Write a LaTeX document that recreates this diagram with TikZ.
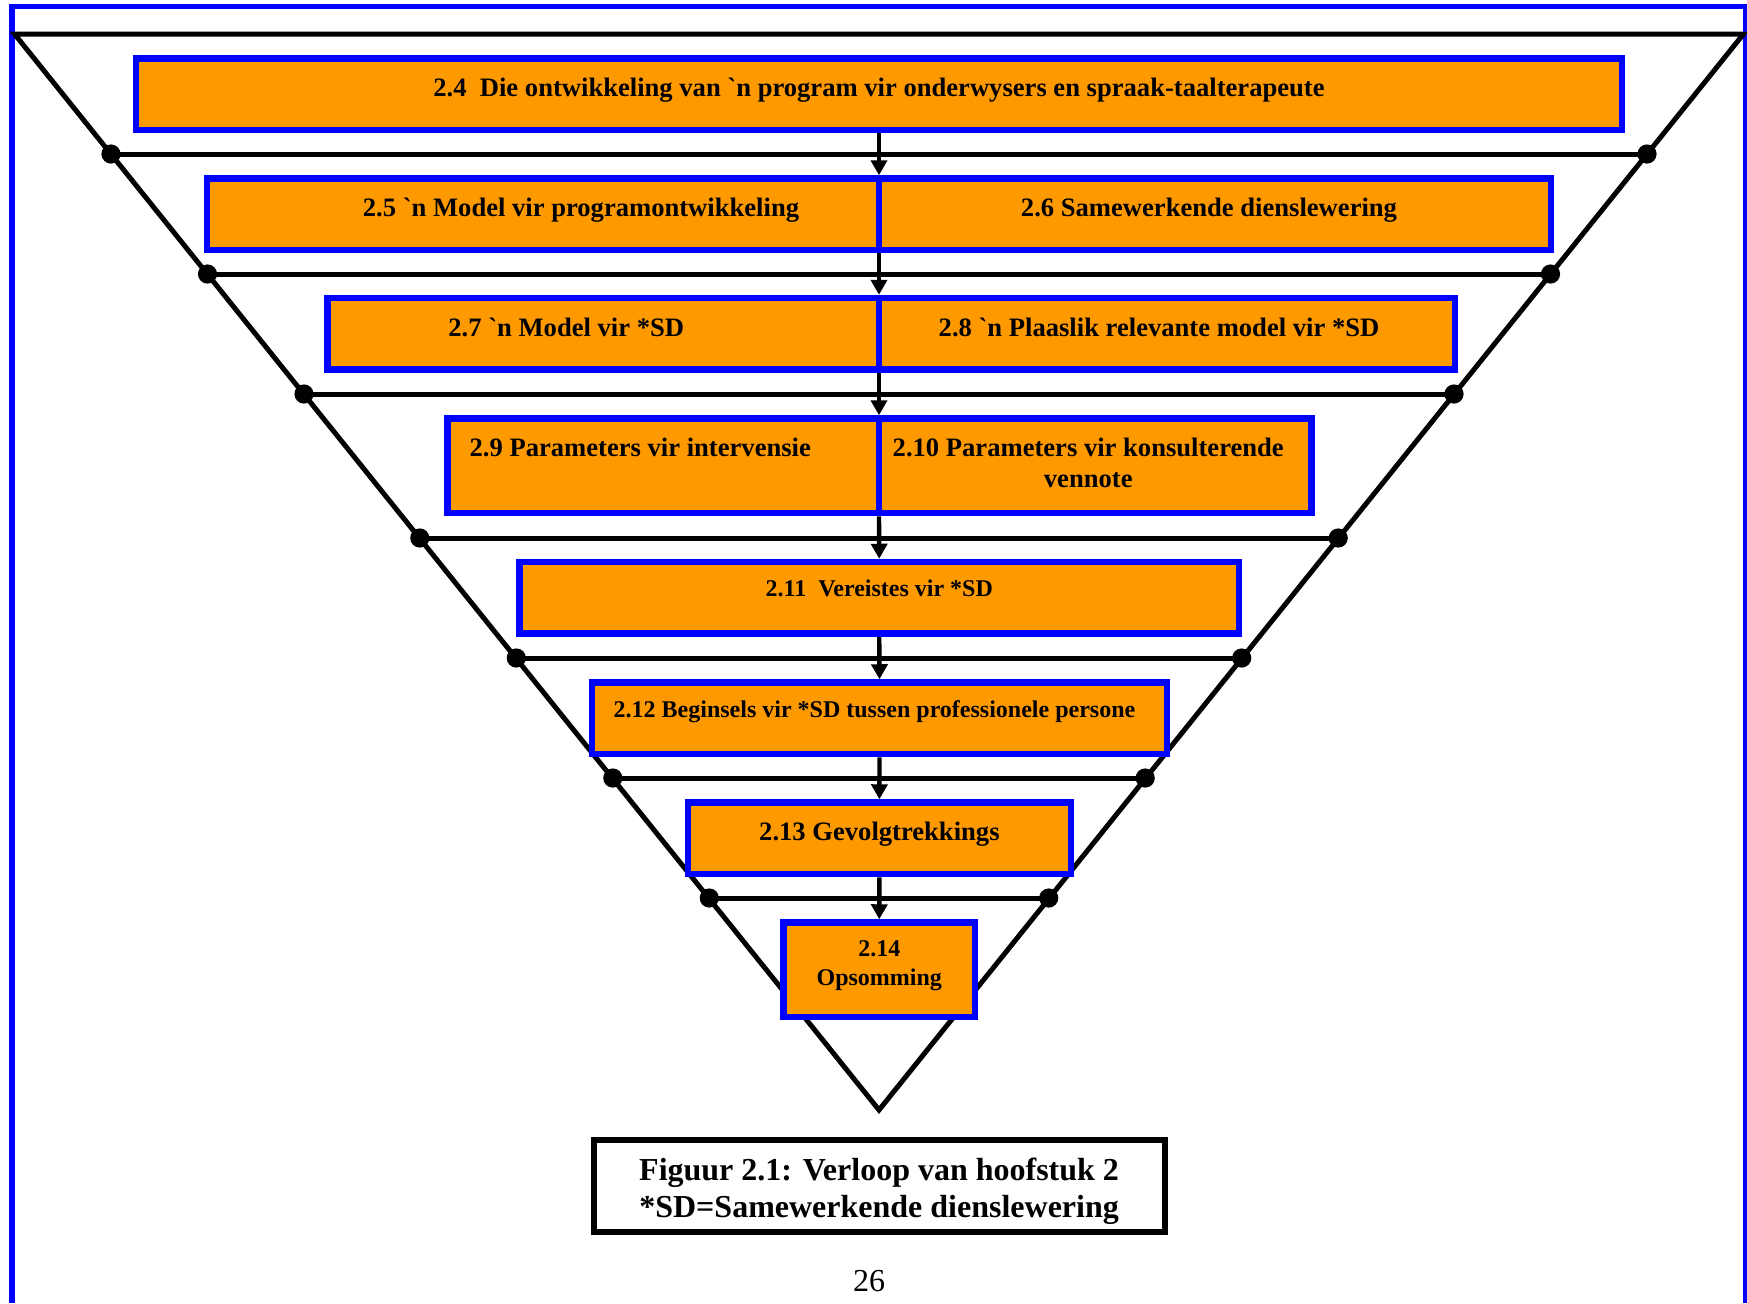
\documentclass[tikz,border=0pt]{standalone}
\usepackage{fontspec}
\setmainfont{Liberation Serif}
\usetikzlibrary{arrows.meta}

\definecolor{boxorange}{RGB}{255,153,0}

\begin{document}
\begin{tikzpicture}[x=0.5pt, y=-0.5pt,
    box/.style={draw=blue, fill=boxorange, line width=3.25pt, inner sep=0pt,
        minimum height=35.75pt, font=\fontsize{13.3}{15.3}\selectfont\bfseries,
        text height=9pt, text depth=6.5pt},
    smallbox/.style={box, font=\fontsize{12}{14.5}\selectfont\bfseries,
        text height=8.2pt, text depth=9.4pt},
    tall/.style={minimum height=47.25pt},
    twoline/.style={align=flush center, text width=#1},
    rung/.style={line width=2.5pt},
    arr/.style={line width=2.2pt, -{Triangle[length=7.5pt, width=8pt]}}]
    \useasboundingbox (0,0) rectangle (1747,1303);

    % page frame, runs off the bottom of the page
    \draw[blue, line width=2.75pt] (12,1303) -- (12,6.7) -- (1745.5,6.7) -- (1745.5,1303);

    % inverted triangle
    \coordinate (tl) at (14.5,34);
    \coordinate (tr) at (1743.5,34);
    \coordinate (ap) at (879,1110);
    \coordinate (spine) at (879,0);
    \draw[rung, line join=miter] (tl) -- (tr) -- (ap) -- cycle;

    % rung ends on the two sides
    \coordinate (dl1) at (111.0,154);  \coordinate (dr1) at (1647.0,154);
    \coordinate (dl2) at (207.5,274);  \coordinate (dr2) at (1550.5,274);
    \coordinate (dl3) at (304.0,394);  \coordinate (dr3) at (1454.0,394);
    \coordinate (dl4) at (419.8,538);  \coordinate (dr4) at (1338.2,538);
    \coordinate (dl5) at (516.3,658);  \coordinate (dr5) at (1241.7,658);
    \coordinate (dl6) at (612.8,778);  \coordinate (dr6) at (1145.2,778);
    \coordinate (dl7) at (709.3,898);  \coordinate (dr7) at (1048.7,898);

    % rungs
    \draw[rung] (dl1) -- (dr1);
    \draw[rung] (dl2) -- (dr2);
    \draw[rung] (dl3) -- (dr3);
    \draw[rung] (dl4) -- (dr4);
    \draw[rung] (dl5) -- (dr5);
    \draw[rung] (dl6) -- (dr6);
    \draw[rung] (dl7) -- (dr7);

    % dots
    \fill (dl1) circle (4.8pt); \fill (dr1) circle (4.8pt);
    \fill (dl2) circle (4.8pt); \fill (dr2) circle (4.8pt);
    \fill (dl3) circle (4.8pt); \fill (dr3) circle (4.8pt);
    \fill (dl4) circle (4.8pt); \fill (dr4) circle (4.8pt);
    \fill (dl5) circle (4.8pt); \fill (dr5) circle (4.8pt);
    \fill (dl6) circle (4.8pt); \fill (dr6) circle (4.8pt);
    \fill (dl7) circle (4.8pt); \fill (dr7) circle (4.8pt);

    % section boxes, top to bottom
    \node[box, minimum width=743pt] (b24) at (879,94.25)
        {2.4\ \ Die ontwikkeling van \textasciigrave n program vir onderwysers en spraak-taalterapeute};
    \node[box, minimum width=336pt] (b25) at (543,214.25)
        {\hspace{38pt}2.5 \textasciigrave n Model vir programontwikkeling};
    \node[box, minimum width=336pt] (b26) at (1215,214.25)
        {2.6 Samewerkende dienslewering\hspace{6pt}\mbox{}};
    \node[box, minimum width=275.75pt] (b27) at (603.25,333.75)
        {2.7 \textasciigrave n Model vir *SD\hspace{37pt}\mbox{}};
    \node[box, minimum width=288pt] (b28) at (1167,333.75)
        {2.8 \textasciigrave n Plaaslik relevante model vir *SD\hspace{8pt}\mbox{}};
    \node[box, tall, text depth=18.2pt, minimum width=215.75pt] (b29) at (663.25,465.75)
        {2.9 Parameters vir intervensie\hspace{23pt}\mbox{}};
    \node[box, tall, twoline=210pt, text depth=18.2pt, minimum width=216.25pt] (b210) at (1095.25,465.75)
        {2.10 Parameters vir konsulterende\hspace{7pt}\mbox{}\\vennote\hspace{7pt}\mbox{}};
    \node[smallbox, minimum width=359.75pt] (b211) at (879.25,597.75)
        {2.11\ \ Vereistes vir *SD};
    \node[smallbox, minimum width=287.5pt] (b212) at (879.5,718.25)
        {2.12 Beginsels vir *SD tussen professionele persone\hspace{5pt}\mbox{}};
    \node[box, minimum width=191.5pt] (b213) at (879.4,838.25)
        {2.13 Gevolgtrekkings};
    \node[smallbox, tall, twoline=80pt, text height=8pt, text depth=21pt, minimum width=95.75pt]
        (b214) at (879.25,969.75) {2.14\\Opsomming};

    % flow down the middle
    \draw[arr] (b24.south) -- (spine |- b25.north);
    \draw[arr] (spine |- b25.south) -- (spine |- b27.north);
    \draw[arr] (spine |- b27.south) -- (spine |- b29.north);
    \draw[arr] (spine |- b29.south) -- (b211.north);
    \draw[arr] (b211.south) -- (b212.north);
    \draw[arr] (b212.south) -- (b213.north);
    \draw[arr] (b213.south) -- (b214.north);

    % caption and page number
    \node[draw, line width=3pt, fill=white, inner sep=0pt, minimum width=285.5pt,
        minimum height=46pt, twoline=280pt, text height=11pt, text depth=15.9pt,
        font=\fontsize{16}{18.4}\selectfont\bfseries]
        (cap) at (879.1,1185.5) {Figuur 2.1: Verloop van hoofstuk 2\\{}*SD=Samewerkende dienslewering};
    \node[font=\fontsize{16}{19}\selectfont] (pnum) at (869,1281.5) {26};
\end{tikzpicture}
\end{document}
